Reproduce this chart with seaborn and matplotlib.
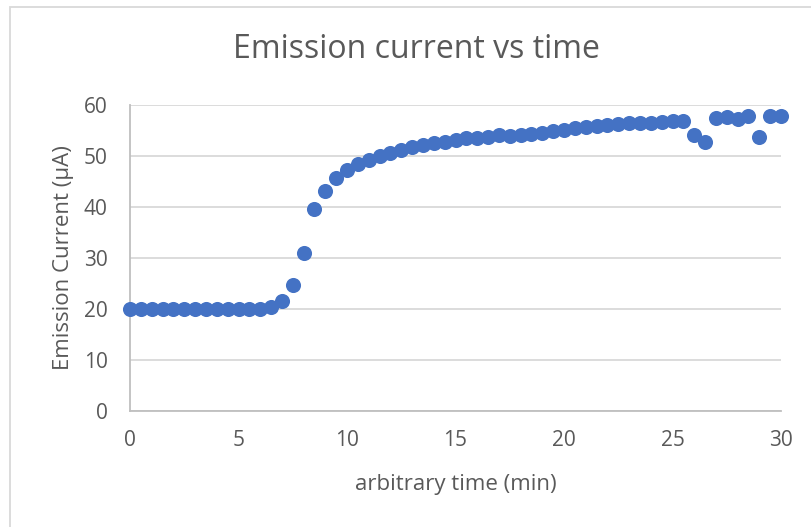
import matplotlib
matplotlib.use("Agg")
import matplotlib.pyplot as plt
import matplotlib.patches as mpatches
import numpy as np
import pandas as pd
import seaborn as sns

# Emission current sampled every half minute
time_min = [
    0, 0.5, 1, 1.5, 2, 2.5, 3, 3.5, 4, 4.5, 5, 5.5, 6, 6.5, 7, 7.5, 8, 8.5, 9, 9.5,
    10, 10.5, 11, 11.5, 12, 12.5, 13, 13.5, 14, 14.5, 15, 15.5, 16, 16.5, 17, 17.5,
    18, 18.5, 19, 19.5, 20, 20.5, 21, 21.5, 22, 22.5, 23, 23.5, 24, 24.5, 25, 25.5,
    26, 26.5, 27, 27.5, 28, 28.5, 29, 29.5, 30,
]
current_uA = [
    20, 20, 20, 20, 20, 20, 20, 20, 20, 20, 20, 20, 20, 20.3, 21.5, 24.8, 31, 39.6, 43.1, 45.7,
    47.2, 48.5, 49.3, 50, 50.6, 51.2, 51.7, 52.1, 52.5, 52.8, 53.1, 53.5, 53.6, 53.8, 54.1, 53.9,
    54.2, 54.4, 54.6, 54.9, 55.1, 55.4, 55.6, 55.9, 56.1, 56.3, 56.4, 56.5, 56.5, 56.7, 56.8, 56.9,
    54.1, 52.8, 57.4, 57.6, 57.3, 57.8, 53.8, 57.9, 57.9,
]

x_ticks = [0, 5, 10, 15, 20, 25, 30]
y_ticks = [0, 10, 20, 30, 40, 50, 60]

title_text = "Emission current vs time"
x_label = "arbitrary time (min)"
y_label = "Emission Current (µA)"

df = pd.DataFrame({"time": time_min, "current": current_uA})

sns.set_theme(style="white")
plt.rcParams["font.family"] = ["Open Sans", "DejaVu Sans"]

W, H = 811, 527
fig = plt.figure(figsize=(W / 100, H / 100), dpi=100)
ax = fig.add_axes([130 / W, 1 - 411 / H, (781 - 130) / W, (411 - 105) / H])

text_color = "#595959"
grid_color = "#D9D9D9"

sns.scatterplot(data=df, x="time", y="current", ax=ax, color="#4472C4",
                s=118, linewidth=0, zorder=3, clip_on=False)

ax.set_xlim(0, 30)
ax.set_ylim(0, 60)
ax.set_xticks(x_ticks)
ax.set_yticks(y_ticks)
ax.set_xticklabels([str(t) for t in x_ticks])
ax.set_yticklabels([str(t) for t in y_ticks])
ax.tick_params(axis="both", length=0, labelsize=15, labelcolor=text_color)
ax.tick_params(axis="x", pad=14)
ax.tick_params(axis="y", pad=16)

ax.yaxis.grid(True, color=grid_color, linewidth=1.3)
ax.xaxis.grid(False)
ax.set_axisbelow(True)

for side in ["top", "right"]:
    ax.spines[side].set_visible(False)
for side in ["left", "bottom"]:
    ax.spines[side].set_color("#BFBFBF")
    ax.spines[side].set_linewidth(1.3)

ax.set_xlabel(x_label, fontsize=16, color=text_color, labelpad=16)
ax.set_ylabel(y_label, fontsize=16, color=text_color, labelpad=7)

fig.text(416 / W, 1 - 50 / H, title_text, ha="center", va="center",
         fontsize=23, color=text_color)

# Chart area outline
fig.patches.append(mpatches.Rectangle((10 / W, -0.1), 1.2, 1 - 7 / H + 0.1,
                                      transform=fig.transFigure, fill=False,
                                      edgecolor="#D9D9D9", linewidth=1.3))

fig.savefig("out.png", dpi=100, facecolor="white")
